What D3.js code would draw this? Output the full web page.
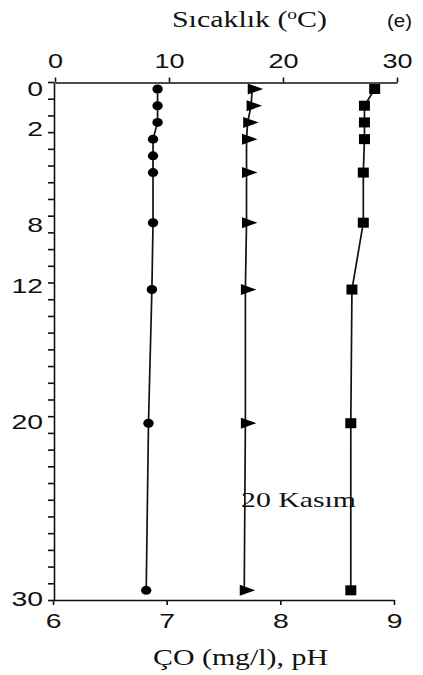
<!DOCTYPE html>
<html>
<head>
<meta charset="utf-8">
<script src="https://cdn.jsdelivr.net/npm/d3@7"></script>
<style>
  body { margin: 0; background: #fff; }
  .tick text { font-family: "Liberation Sans", Arial, sans-serif; font-size: 20px; fill: #111; }
  .serif { font-family: "Liberation Serif", "Times New Roman", serif; fill: #111; }
</style>
</head>
<body>
<script>
var width = 423, height = 675, stretch = 1.35;

// depths (m) and the three profiles, 20 Kasım
var depthDO   = [0, 1, 2, 3, 4, 5, 8, 12, 20, 30];
var valuesDO  = [6.92, 6.92, 6.92, 6.88, 6.88, 6.88, 6.88, 6.87, 6.84, 6.82];
var depthT    = [0, 1, 2, 3, 5, 8, 12, 20, 30];
var valuesT   = [17.3, 17.2, 16.9, 16.8, 16.8, 16.8, 16.7, 16.7, 16.6];
var depthPH   = [0, 1, 2, 3, 5, 8, 12, 20, 30];
var valuesPH  = [8.83, 8.74, 8.74, 8.74, 8.73, 8.73, 8.63, 8.62, 8.62];

var topTicks = [0, 10, 20, 30];
var bottomTicks = [6, 7, 8, 9];
var depthLabels = ["0", "2", "8", "12", "20", "30"];
var depthLabelAt = [0, 2.4, 8.1, 11.8, 19.9, 30.5];

var xTop = d3.scaleLinear().domain([0, 30]).range([55, 397]);
var xBot = d3.scaleLinear().domain([6, 9]).range([53, 394]);
var y = d3.scaleLinear().domain([-0.42, 30.58]).range([82, 600]);

var svg = d3.select("body").append("svg")
    .attr("width", width)
    .attr("height", height);

// widen text the way the scanned figure is widened
function widen(sel, factor) {
  sel.each(function() {
    var w = this.getComputedTextLength();
    d3.select(this).attr("textLength", w * factor).attr("lengthAdjust", "spacingAndGlyphs");
  });
}

// top axis (temperature)
var gTop = svg.append("g")
    .attr("transform", "translate(0,82.5)")
    .call(d3.axisTop(xTop).tickValues(topTicks).tickSize(5).tickSizeOuter(0).tickFormat(d3.format("d")));
gTop.selectAll(".tick text").attr("dy", "-0.3em").attr("y", -9);

// bottom axis (DO, pH)
var gBot = svg.append("g")
    .attr("transform", "translate(0,600)")
    .call(d3.axisBottom(xBot).tickValues(bottomTicks).tickSize(5).tickSizeOuter(0).tickFormat(d3.format("d")));
gBot.selectAll(".tick text").attr("y", 13).style("font-size", "21px");

// left axis: minor ticks every unit, labels on their own
var gLeft = svg.append("g")
    .attr("transform", "translate(54,0)")
    .call(d3.axisLeft(y).tickValues(d3.range(32).map(function(k) { return -0.42 + k; }))
      .tickSize(6).tickSizeOuter(0).tickFormat(""));

var gLab = svg.append("g")
    .attr("transform", "translate(43,0)")
    .call(d3.axisLeft(y).tickValues(depthLabelAt).tickSize(0)
      .tickFormat(function(d, i) { return depthLabels[i]; }));
gLab.select(".domain").remove();
gLab.selectAll(".tick text").attr("x", 0).style("font-size", "21px");

svg.selectAll(".domain, .tick line").attr("stroke", "#111").attr("stroke-width", 1.6);

widen(svg.selectAll(".tick text"), stretch);

// profile lines
var lineDO = d3.line().x(function(d) { return xBot(d); }).y(function(d, i) { return y(depthDO[i]); });
var lineT  = d3.line().x(function(d) { return xTop(d); }).y(function(d, i) { return y(depthT[i]); });
var linePH = d3.line().x(function(d) { return xBot(d); }).y(function(d, i) { return y(depthPH[i]); });

[[valuesDO, lineDO], [valuesT, lineT], [valuesPH, linePH]].forEach(function(p) {
  svg.append("path")
     .datum(p[0])
     .attr("d", p[1])
     .attr("fill", "none")
     .attr("stroke", "#111")
     .attr("stroke-width", 1.7);
});

// markers
svg.selectAll(".doMark")
   .data(valuesDO)
   .enter()
   .append("ellipse")
   .attr("cx", function(d) { return xBot(d); })
   .attr("cy", function(d, i) { return y(depthDO[i]); })
   .attr("rx", 5.2)
   .attr("ry", 4.5)
   .attr("fill", "#000");

svg.selectAll(".tMark")
   .data(valuesT)
   .enter()
   .append("path")
   .attr("transform", function(d, i) { return "translate(" + xTop(d) + "," + y(depthT[i]) + ")"; })
   .attr("d", "M-4.5,-5.5L11,0L-4.5,5.5Z")
   .attr("fill", "#000");

svg.selectAll(".phMark")
   .data(valuesPH)
   .enter()
   .append("rect")
   .attr("x", function(d) { return xBot(d) - 5.5; })
   .attr("y", function(d, i) { return y(depthPH[i]) - 5; })
   .attr("width", 11)
   .attr("height", 10)
   .attr("fill", "#000");

// titles
var tTop = svg.append("text")
   .attr("class", "serif")
   .attr("x", 172)
   .attr("y", 27)
   .style("font-size", "23px");
tTop.append("tspan").text("Sıcaklık (");
tTop.append("tspan").text("o").attr("dy", -8).style("font-size", "15px");
tTop.append("tspan").text("C)").attr("dy", 8);
tTop.attr("textLength", 155).attr("lengthAdjust", "spacingAndGlyphs");

svg.append("text")
   .attr("x", 387)
   .attr("y", 27)
   .style("font-family", "Liberation Sans, Arial, sans-serif")
   .style("font-size", "19px")
   .attr("fill", "#111")
   .attr("textLength", 25)
   .attr("lengthAdjust", "spacingAndGlyphs")
   .text("(e)");

svg.append("text")
   .attr("class", "serif")
   .attr("x", 153)
   .attr("y", 665)
   .style("font-size", "23px")
   .attr("textLength", 175)
   .attr("lengthAdjust", "spacingAndGlyphs")
   .text("ÇO (mg/l), pH");

svg.append("text")
   .attr("class", "serif")
   .attr("x", 241)
   .attr("y", 507)
   .style("font-size", "22px")
   .attr("textLength", 115)
   .attr("lengthAdjust", "spacingAndGlyphs")
   .text("20 Kasım");
</script>
</body>
</html>
